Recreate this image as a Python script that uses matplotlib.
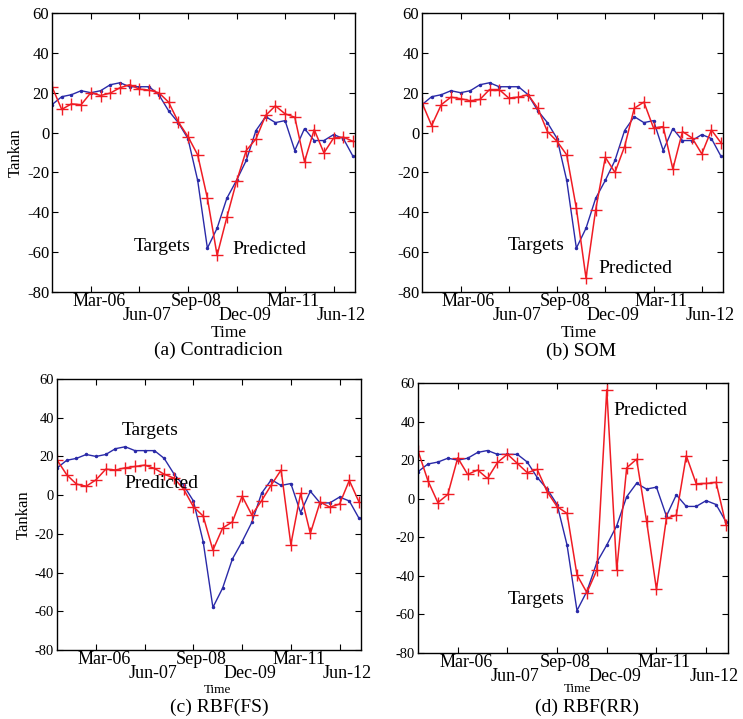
import matplotlib
matplotlib.use("Agg")
import matplotlib.pyplot as plt
import matplotlib.transforms as mtransforms
from matplotlib.ticker import FixedLocator, FixedFormatter

plt.rcParams["font.family"] = ["Liberation Serif", "DejaVu Serif"]

# Quarterly Tankan index, Mar-05 .. Dec-12 (32 quarters)
targets = [14, 18, 19, 21, 20, 21, 24, 25, 23, 23, 23, 19, 11, 5, -3, -24,
           -58, -48, -33, -24, -14, 1, 8, 5, 6, -9, 2, -4, -4, -1, -3, -12]

pred_contradicion = [23, 11.6, 14.4, 14, 20, 18.6, 19.8, 22.5, 24, 21.8, 21.3, 20,
                     15.3, 5.4, -2, -11.2, -32.9, -61.6, -42.6, -24.5, -9, -3.2,
                     8.6, 13.4, 9.4, 7.7, -14.6, 1.5, -10.2, -2.7, -2.3, -4.4]
pred_som = [15, 3.5, 14, 17.8, 17, 16, 16.6, 21.6, 21.6, 17.3, 17.8, 19,
            12.2, 0.5, -4.4, -11.2, -38, -73, -38.8, -12.4, -20, -7,
            12.2, 15.3, 2.3, 3, -18.3, 0.5, -2.7, -10.7, 1.3, -5.2]
pred_rbf_fs = [18.2, 10.5, 5.7, 4.6, 7.9, 13.4, 13, 14.1, 14.8, 15.5, 13.8, 10.8,
               8.8, 3.1, -6, -10.8, -28.4, -17, -13.8, -0.5, -10.3, -2.8,
               5.3, 13, -25.5, 0.9, -19.8, -3.6, -6.2, -4.6, 7.6, -3.6]
pred_rbf_rr = [24.9, 9.3, -2, 2.2, 21.2, 12.6, 14.9, 10.5, 18.8, 23.1, 18.3, 13.5,
               15.2, 3.6, -4.1, -7.6, -39.5, -48.7, -37, 56.6, -37, 16,
               20.5, -11.4, -47, -10.2, -8.5, 22.3, 7.8, 7.9, 8.5, -13.6]

upper_ticks = [4, 14, 24]
upper_labels = ["Mar-06", "Sep-08", "Mar-11"]
lower_ticks = [9, 19, 29]
lower_labels = ["Jun-07", "Dec-09", "Jun-12"]
y_ticks = [60, 40, 20, 0, -20, -40, -60, -80]

W, H = 743, 719

# (pred, caption, box px (l, t, r, b), small fonts, Time xy px, caption xy px, notes)
panels = [
    (pred_contradicion, "(a) Contradicion", (52, 13, 355, 292), False,
     (229, 333), (218, 350),
     [("Targets", 8.45, -57.2), ("Predicted", 18.6, -58.9)]),
    (pred_som, "(b) SOM", (422, 13, 723, 292), False,
     (579, 333), (581, 351),
     [("Targets", 8.9, -56.5), ("Predicted", 18.3, -68.3)]),
    (pred_rbf_fs, "(c) RBF(FS)", (57, 379, 361, 650), True,
     (217, 690), (219, 707),
     [("Targets", 6.6, 33.2), ("Predicted", 6.9, 6.2)]),
    (pred_rbf_rr, "(d) RBF(RR)", (418, 383, 728, 653), True,
     (577, 689), (587, 707),
     [("Targets", 9.0, -52.0), ("Predicted", 19.7, 45.6)]),
]

fig = plt.figure(figsize=(W / 100, H / 100), dpi=100)
shift = mtransforms.ScaledTranslation(8 / 100, 0, fig.dpi_scale_trans)

for i, (pred, caption, (l, t, r, b), small, time_xy, cap_xy, notes) in enumerate(panels):
    ax = fig.add_axes([l / W, 1 - b / H, (r - l) / W, (b - t) / H])
    x = list(range(len(targets)))
    ax.plot(x, targets, color="#2a2aa8", lw=1.0, marker=".", ms=3)
    ax.plot(x, pred, color="#f01c24", lw=1.1, marker="+", ms=8, mew=1.0)

    ax.set_xlim(0, 31.2)
    ax.set_ylim(-80, 60)
    ax.set_yticks(y_ticks)
    ax.set_yticklabels([str(v) for v in y_ticks])

    ax.xaxis.set_major_locator(FixedLocator(upper_ticks))
    ax.xaxis.set_major_formatter(FixedFormatter(upper_labels))
    ax.xaxis.set_minor_locator(FixedLocator(lower_ticks))
    ax.xaxis.set_minor_formatter(FixedFormatter(lower_labels))

    ax.tick_params(which="both", direction="in", top=True, right=True,
                   length=4, width=0.8, colors="black")
    ax.tick_params(axis="x", which="major", labelsize=13, pad=1)
    ax.tick_params(axis="x", which="minor", labelsize=13, pad=11)
    ax.tick_params(axis="y", labelsize=10.5 if small else 12, pad=2)
    for s in ax.spines.values():
        s.set_linewidth(1.0)

    # labels in the source sit a little right of their ticks
    for lab in ax.get_xticklabels(which="both"):
        lab.set_transform(lab.get_transform() + shift)

    if i % 2 == 0:
        ax.set_ylabel("Tankan", fontsize=12, labelpad=2)

    fig.text(time_xy[0] / W, 1 - time_xy[1] / H, "Time",
             fontsize=9.5 if small else 12.5, ha="center", va="center")
    fig.text(cap_xy[0] / W, 1 - cap_xy[1] / H, caption,
             fontsize=14, ha="center", va="center")

    for txt, tx, ty in notes:
        ax.text(tx, ty, txt, fontsize=14, ha="left", va="center")

fig.savefig("out.png", dpi=100)
